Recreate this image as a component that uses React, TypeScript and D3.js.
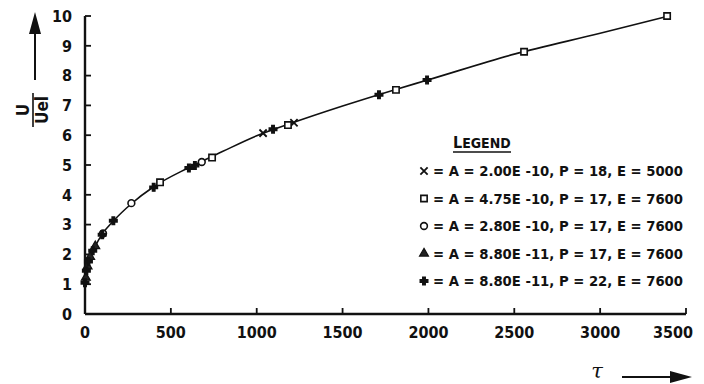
import React from "react";
import * as d3 from "d3";

// curve
const tauCurve = [0, 5, 15, 30, 60, 100, 165, 270, 400, 600, 800, 1000, 1200, 1500, 1800, 2000, 2500, 3000, 3400];
const uCurve = [1.0, 1.3, 1.6, 1.9, 2.28, 2.68, 3.12, 3.7, 4.27, 4.9, 5.45, 5.98, 6.4, 6.98, 7.52, 7.86, 8.72, 9.42, 10.0];

// measured points per series [tau, U/Uel]
const crossPts: [number, number][] = [[1037, 6.07], [1217, 6.42]];
const squarePts: [number, number][] = [[3390, 10.0], [2557, 8.8], [1811, 7.52], [1182, 6.34], [740, 5.25], [437, 4.42]];
const circlePts: [number, number][] = [[680, 5.1], [270, 3.72], [105, 2.7]];
const trianglePts: [number, number][] = [[60, 2.28], [30, 1.92], [15, 1.6], [5, 1.22]];
const plusPts: [number, number][] = [[1992, 7.85], [1712, 7.36], [1095, 6.2], [640, 4.98], [605, 4.9], [400, 4.25], [165, 3.13], [100, 2.66], [45, 2.12], [20, 1.76], [8, 1.45], [0, 1.05]];

const xTicks = [0, 500, 1000, 1500, 2000, 2500, 3000, 3500];
const yTicks = [0, 1, 2, 3, 4, 5, 6, 7, 8, 9, 10];

const legendRows = [
  { sym: "x", label: "= A = 2.00E -10,  P = 18, E = 5000" },
  { sym: "square", label: "= A = 4.75E -10,  P = 17, E = 7600" },
  { sym: "circle", label: "= A = 2.80E -10,  P = 17, E = 7600" },
  { sym: "triangle", label: "= A = 8.80E -11,  P = 17, E = 7600" },
  { sym: "plus", label: "= A = 8.80E -11,  P = 22, E = 7600" },
];

const font = "'DejaVu Sans Condensed', 'DejaVu Sans', sans-serif";

const x = d3.scaleLinear().domain([0, 3500]).range([85, 686]);
const y = d3.scaleLinear().domain([0, 10]).range([314, 16]);

function Marker({ kind, cx, cy }: { kind: string; cx: number; cy: number }) {
  const t = `translate(${cx},${cy})`;
  if (kind === "x") {
    return <path transform={t} d={d3.symbol(d3.symbolX, 36)()!} fill="none" stroke="#111" strokeWidth={1.8} />;
  }
  if (kind === "square") {
    return <path transform={t} d={d3.symbol(d3.symbolSquare, 40)()!} fill="#fff" stroke="#111" strokeWidth={1.6} />;
  }
  if (kind === "circle") {
    return <path transform={t} d={d3.symbol(d3.symbolCircle, 36)()!} fill="#fff" stroke="#111" strokeWidth={1.6} />;
  }
  if (kind === "triangle") {
    return <path transform={t} d={d3.symbol(d3.symbolTriangle, 34)()!} fill="#222" stroke="#111" strokeWidth={1.2} />;
  }
  return <path transform={t} d={d3.symbol(d3.symbolCross, 32)()!} fill="#111" stroke="#111" strokeWidth={1.4} />;
}

export default function App() {
  const line = d3
    .line<number>()
    .x((d) => x(d))
    .y((_, i) => y(uCurve[i]))
    .curve(d3.curveMonotoneX);

  const series: [string, [number, number][]][] = [
    ["x", crossPts],
    ["square", squarePts],
    ["circle", circlePts],
    ["triangle", trianglePts],
    ["plus", plusPts],
  ];

  return (
    <svg width={704} height={384} style={{ position: "absolute", left: 0, top: 0, background: "#fff" }} fontFamily={font}>
      {/* axes */}
      <line x1={x(0)} x2={x(0)} y1={y(10)} y2={y(0)} stroke="#111" strokeWidth={2.4} />
      <line x1={x(0)} x2={x(3500)} y1={y(0)} y2={y(0)} stroke="#111" strokeWidth={2.4} />
      {yTicks.map((v) => (
        <g key={"y" + v}>
          <line x1={x(0)} x2={x(0) + 6} y1={y(v)} y2={y(v)} stroke="#111" strokeWidth={1.8} />
          <text x={72} y={y(v)} dy="0.36em" textAnchor="end" fontSize={16} fontWeight="bold" fill="#111">
            {v}
          </text>
        </g>
      ))}
      {xTicks.map((v, i) => (
        <g key={"x" + v}>
          <line x1={x(v)} x2={x(v)} y1={y(0)} y2={y(0) - 6} stroke="#111" strokeWidth={1.8} />
          <text
            x={i === xTicks.length - 1 ? 693 : x(v)}
            y={338}
            textAnchor={i === xTicks.length - 1 ? "end" : "middle"}
            fontSize={16}
            fontWeight="bold"
            fill="#111"
          >
            {v}
          </text>
        </g>
      ))}

      {/* curve */}
      <path d={line(tauCurve)!} fill="none" stroke="#111" strokeWidth={1.6} />

      {/* points */}
      {series.map(([kind, pts]) =>
        pts.map((p, i) => <Marker key={kind + i} kind={kind} cx={x(p[0])} cy={y(p[1])} />)
      )}

      {/* y title */}
      <g transform="translate(33,110) rotate(-90)">
        <text x={0} y={-4} textAnchor="middle" fontSize={17} fontWeight="bold" fill="#111">U</text>
        <line x1={-17} x2={17} y1={0} y2={0} stroke="#111" strokeWidth={1.6} />
        <text x={0} y={15} textAnchor="middle" fontSize={17} fontWeight="bold" fill="#111">Uel</text>
      </g>
      <line x1={35} x2={35} y1={80} y2={30} stroke="#111" strokeWidth={2} />
      <path d="M35,12 L29,34 L41,34 Z" fill="#111" />

      {/* x title */}
      <text x={597} y={378} textAnchor="middle" fontSize={21} fontStyle="italic" fontFamily="'DejaVu Serif', serif" fill="#111">τ</text>
      <line x1={622} x2={675} y1={377} y2={377} stroke="#111" strokeWidth={2} />
      <path d="M692,377 L670,371 L670,383 Z" fill="#111" />

      {/* legend */}
      <text x={453} y={148} fontSize={14} fontWeight="bold" fill="#111">
        <tspan fontSize={16}>L</tspan>EGEND
      </text>
      <line x1={453} x2={511} y1={152} y2={152} stroke="#111" strokeWidth={1.6} />
      {legendRows.map((r, i) => (
        <g key={r.sym}>
          <Marker kind={r.sym} cx={424} cy={171 + i * 27.5} />
          <text x={433} y={171 + i * 27.5} dy="0.36em" fontSize={14} fontWeight="bold" fill="#111" textLength={250} lengthAdjust="spacingAndGlyphs">
            {r.label}
          </text>
        </g>
      ))}
    </svg>
  );
}
